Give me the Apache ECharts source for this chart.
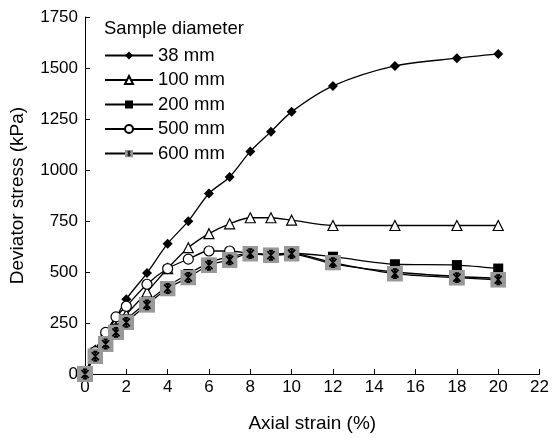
<!DOCTYPE html>
<html>
<head>
<meta charset="utf-8">
<script src="https://cdn.jsdelivr.net/npm/echarts@6/dist/echarts.min.js"></script>
<style>html,body{margin:0;padding:0;background:#fff}#c{width:552px;height:438px}</style>
</head>
<body>
<div id="c"></div>
<script>
const strain = [0, 0.5, 1, 1.5, 2, 3, 4, 5, 6, 7, 8, 9, 10, 12, 15, 18, 20];
const d38  = [0, 120, 200, 275, 367, 495, 639, 749, 885, 966, 1091, 1188, 1285, 1412, 1510, 1548, 1569];
const d100 = [0, 90, 165, 230, 292, 402, 517, 619, 688, 736, 766, 766, 754, 728, 728, 728, 728];
const d200 = [0, 105, 170, 222, 268, 352, 430, 490, 545, 575, 590, 588, 592, 575, 538, 534, 517];
const d500 = [0, 110, 204, 280, 332, 440, 517, 563, 603, 603, 590, 583, 586, 540, 500, 478, 470];
const d600 = [0, 87, 147, 204, 253, 339, 419, 473, 533, 559, 590, 582, 590, 546, 492, 472, 462];
const seriesNames = ['38 mm', '100 mm', '200 mm', '500 mm', '600 mm'];
const xTicks = [0, 2, 4, 6, 8, 10, 12, 14, 16, 18, 20, 22];
const yTicks = [0, 250, 500, 750, 1000, 1250, 1500, 1750];

const pairs = arr => strain.map((s, i) => [s, arr[i]]);
const FONT = 'Liberation Sans, Arial, sans-serif';

const starSvg = "<svg xmlns='http://www.w3.org/2000/svg' width='32' height='32' viewBox='0 0 16 16'>" +
  "<rect width='16' height='16' fill='#999999'/>" +
  "<path d='M4.5 4 L11.5 12 M11.5 4 L4.5 12 M8 3.5 V12.5 M6 3.5 H10 M6 12.5 H10' stroke='#000' stroke-width='1.8' fill='none'/></svg>";
const starSymbol = 'image://data:image/svg+xml;charset=utf-8,' + encodeURIComponent(starSvg);

const base = {
  type: 'line', smooth: 0.3,
  lineStyle: { color: '#000', width: 1.3 },
  z: 3
};
const chart = echarts.init(document.getElementById('c'), null, { renderer: 'canvas' });
chart.setOption({
  animation: false,
  backgroundColor: '#fff',
  textStyle: { fontFamily: FONT, color: '#000' },
  title: {
    text: 'Sample diameter', left: 104, top: 19, padding: 0,
    textStyle: { fontFamily: FONT, fontSize: 18.5, fontWeight: 'normal', color: '#000' }
  },
  legend: {
    orient: 'vertical', left: 104, top: 46, padding: 0,
    itemWidth: 48, itemHeight: 10, itemGap: 5.5,
    textStyle: { fontFamily: FONT, fontSize: 18.5, color: '#000' },
    data: seriesNames
  },
  grid: { left: 84, right: 12, top: 17, bottom: 63, containLabel: false },
  xAxis: {
    type: 'value', min: 0, max: 22, interval: 2,
    name: 'Axial strain (%)', nameLocation: 'middle', nameGap: 40,
    nameTextStyle: { fontFamily: FONT, fontSize: 19, color: '#000' },
    axisLine: { show: true, onZero: false, lineStyle: { color: '#000', width: 1 } },
    axisTick: { show: true, inside: true, length: 5, lineStyle: { color: '#000' } },
    axisLabel: { fontFamily: FONT, fontSize: 17, color: '#000', margin: 5,
      formatter: v => xTicks.includes(v) ? String(v) : '' },
    splitLine: { show: false }
  },
  yAxis: {
    type: 'value', min: 0, max: 1750, interval: 250,
    name: 'Deviator stress (kPa)', nameLocation: 'middle', nameGap: 58,
    nameTextStyle: { fontFamily: FONT, fontSize: 19, color: '#000' },
    axisLine: { show: true, lineStyle: { color: '#000', width: 1 } },
    axisTick: { show: true, inside: true, length: 5, lineStyle: { color: '#000' } },
    axisLabel: { fontFamily: FONT, fontSize: 17, color: '#000', margin: 7,
      formatter: v => yTicks.includes(v) ? String(v) : '' },
    splitLine: { show: false }
  },
  series: [
    Object.assign({}, base, { name: seriesNames[0], data: pairs(d38), symbol: 'diamond', symbolSize: 10,
      itemStyle: { color: '#000' } }),
    Object.assign({}, base, { name: seriesNames[1], data: pairs(d100), symbol: 'triangle', symbolSize: 10,
      itemStyle: { color: '#fff', borderColor: '#000', borderWidth: 1.2 } }),
    Object.assign({}, base, { name: seriesNames[2], data: pairs(d200), symbol: 'rect', symbolSize: 10,
      itemStyle: { color: '#000' } }),
    Object.assign({}, base, { name: seriesNames[3], data: pairs(d500), symbol: 'circle', symbolSize: 10,
      itemStyle: { color: '#fff', borderColor: '#000', borderWidth: 1.2 } }),
    Object.assign({}, base, { name: seriesNames[4], data: pairs(d600), symbol: starSymbol, symbolSize: 16,
      itemStyle: { color: '#999' }, z: 4 })
  ]
});
</script>
</body>
</html>
